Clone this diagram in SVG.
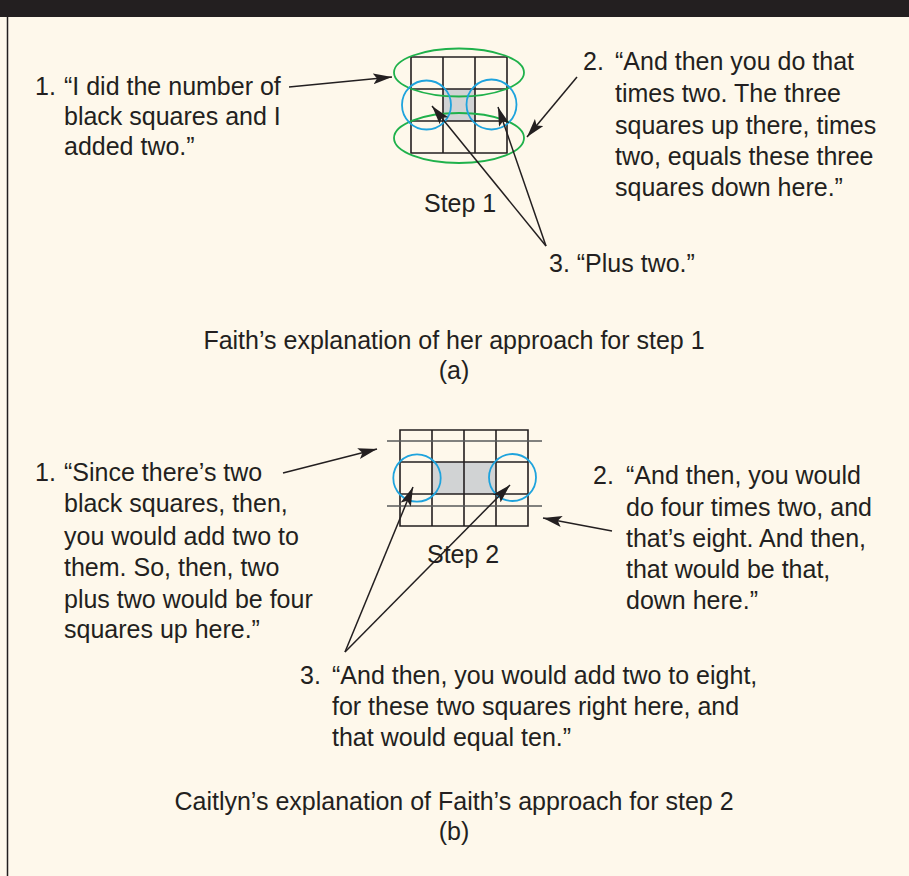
<svg xmlns="http://www.w3.org/2000/svg" width="909" height="876" viewBox="0 0 909 876">
<defs>
<style>
.t{font-family:"Liberation Sans",Arial,sans-serif;font-size:25px;fill:#231f20}
.c{text-anchor:middle}
.g{stroke:#231f20;stroke-width:1.6;fill:none}
.x{stroke:#58595b;stroke-width:1.6;fill:none}
.gr{stroke:#1fb14b;stroke-width:1.8;fill:none}
.bl{stroke:#1ea3dd;stroke-width:1.8;fill:none}
.ah{stroke:#231f20;stroke-width:1.5;fill:none;marker-end:url(#arr)}
</style>
<marker id="arr" markerUnits="userSpaceOnUse" markerWidth="22" markerHeight="12" refX="19" refY="5.5" orient="auto" viewBox="0 0 22 12">
<path d="M0,0 L19,5.5 L0,11 L4,5.5 z" fill="#231f20"/>
</marker>
</defs>
<rect x="0" y="0" width="909" height="876" fill="#fef8eb"/>
<rect x="0" y="0" width="909" height="17" fill="#231f20"/>
<line x1="7.5" y1="17" x2="7.5" y2="876" stroke="#231f20" stroke-width="1.5"/>

<g id="step1-grid">
<rect x="443" y="89" width="32" height="32" fill="#d1d3d4"/>
<path class="g" d="M411,57H507V153H411Z M443,57V153 M475,57V153 M411,89H507 M411,121H507"/>
<ellipse class="gr" cx="459" cy="72.5" rx="65" ry="24"/>
<ellipse class="gr" cx="459" cy="138" rx="65" ry="25"/>
<circle class="bl" cx="426.5" cy="105" r="24.5"/>
<circle class="bl" cx="491.5" cy="104.5" r="25"/>
<text class="t" x="424" y="212">Step 1</text>
</g>

<g id="a-note1">
<text class="t" x="35" y="95">1.</text>
<text class="t" x="64" y="95">“I did the number of</text>
<text class="t" x="64" y="125">black squares and I</text>
<text class="t" x="64" y="155">added two.”</text>
</g>

<g id="a-note2">
<text class="t" x="583" y="70">2.</text>
<text class="t" x="615" y="70">“And then you do that</text>
<text class="t" x="615" y="102">times two. The three</text>
<text class="t" x="615" y="134">squares up there, times</text>
<text class="t" x="615" y="165">two, equals these three</text>
<text class="t" x="615" y="196">squares down here.”</text>
</g>

<g id="a-note3">
<text class="t" x="549" y="272">3. “Plus two.”</text>
</g>

<g id="a-caption">
<text class="t c" x="454" y="349">Faith’s explanation of her approach for step 1</text>
<text class="t c" x="454" y="379">(a)</text>
</g>

<g id="step2-grid">
<rect x="432" y="462" width="64" height="32" fill="#d1d3d4"/>
<path class="g" d="M400,430H528V526H400Z M432,430V526 M464,430V526 M496,430V526 M400,462H528 M400,494H528"/>
<path class="x" d="M387,441H542 M387,506H542"/>
<circle class="bl" cx="417" cy="478" r="23.7"/>
<circle class="bl" cx="512.5" cy="477.5" r="23.5"/>
<text class="t" x="427" y="563">Step 2</text>
</g>

<g id="b-note1">
<text class="t" x="35" y="481">1.</text>
<text class="t" x="64" y="481">“Since there’s two</text>
<text class="t" x="64" y="512">black squares, then,</text>
<text class="t" x="64" y="545">you would add two to</text>
<text class="t" x="64" y="576">them. So, then, two</text>
<text class="t" x="64" y="608">plus two would be four</text>
<text class="t" x="64" y="638">squares up here.”</text>
</g>

<g id="b-note2">
<text class="t" x="593" y="484">2.</text>
<text class="t" x="626" y="484">“And then, you would</text>
<text class="t" x="626" y="516">do four times two, and</text>
<text class="t" x="626" y="547">that’s eight. And then,</text>
<text class="t" x="626" y="578">that would be that,</text>
<text class="t" x="626" y="609">down here.”</text>
</g>

<g id="b-note3">
<text class="t" x="300" y="684">3.</text>
<text class="t" x="332" y="684">“And then, you would add two to eight,</text>
<text class="t" x="332" y="715">for these two squares right here, and</text>
<text class="t" x="332" y="746">that would equal ten.”</text>
</g>

<g id="b-caption">
<text class="t c" x="454" y="810">Caitlyn’s explanation of Faith’s approach for step 2</text>
<text class="t c" x="454" y="840">(b)</text>
</g>

<g id="connectors">
<line class="ah" x1="289" y1="87" x2="392" y2="77"/>
<line class="ah" x1="577" y1="77" x2="527" y2="137"/>
<line class="ah" x1="546" y1="246" x2="432" y2="106"/>
<line class="ah" x1="546" y1="246" x2="498" y2="107"/>
<line class="ah" x1="283" y1="473" x2="377" y2="449"/>
<line class="ah" x1="612" y1="531" x2="543" y2="518"/>
<line class="ah" x1="345" y1="652" x2="413" y2="487"/>
<line class="ah" x1="345" y1="652" x2="510" y2="485"/>
</g>
</svg>
